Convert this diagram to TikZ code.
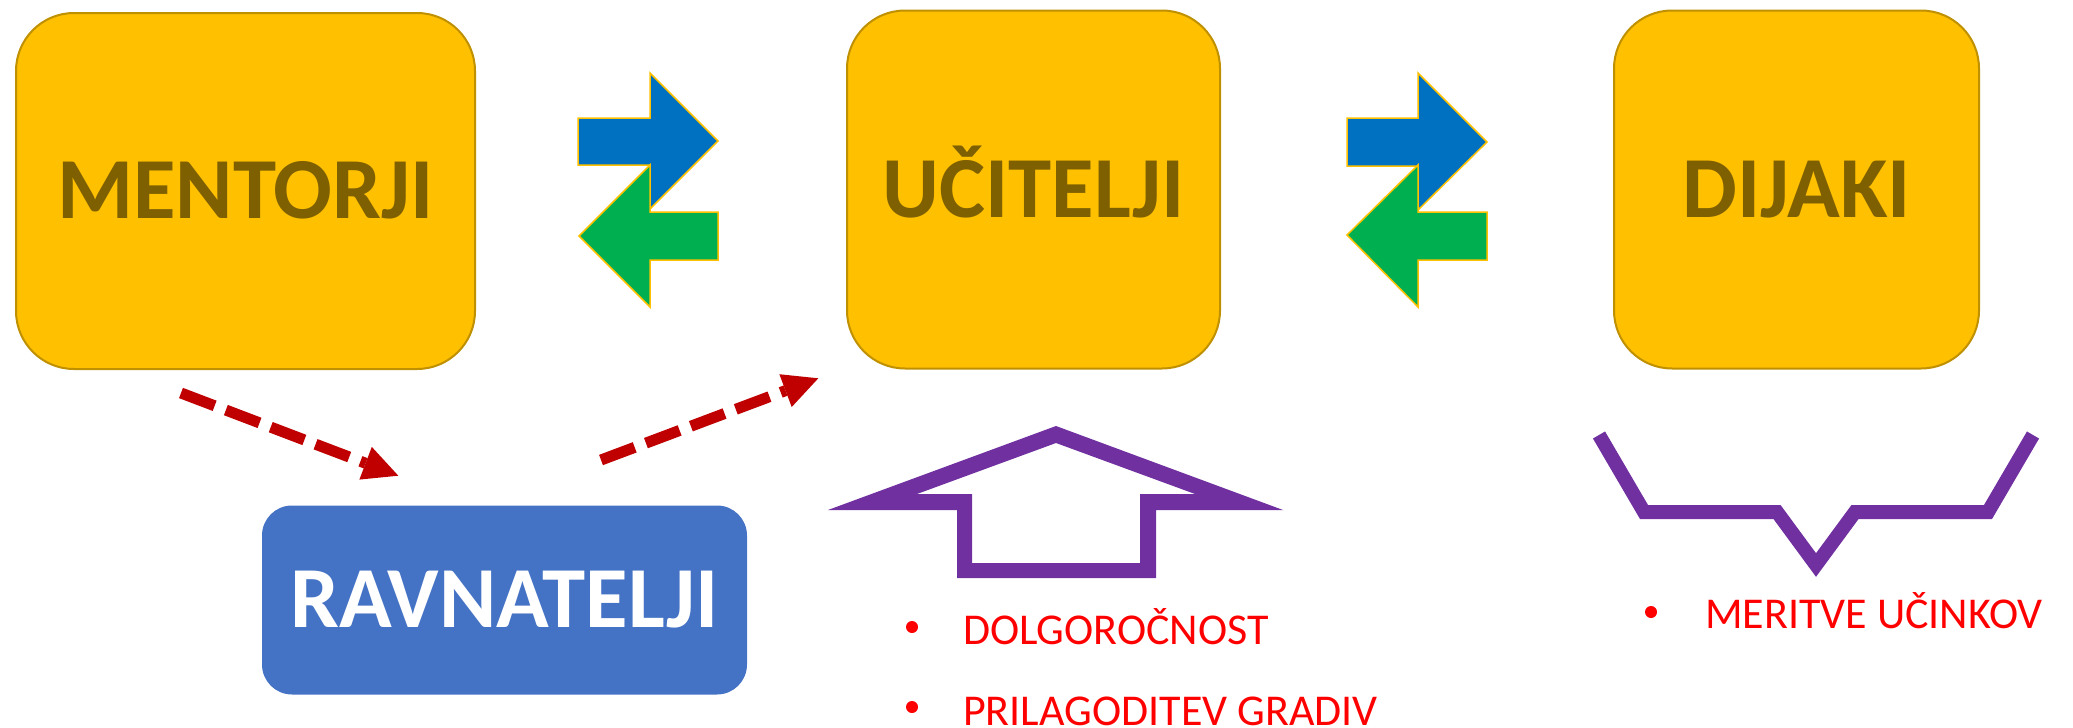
\documentclass[tikz,border=0pt]{standalone}
\usepackage{fontspec}
\setmainfont{Carlito}
\usetikzlibrary{arrows.meta}
\definecolor{boxyellow}{HTML}{FFC000}
\definecolor{boxedge}{HTML}{BF9000}
\definecolor{boxtext}{HTML}{7F6000}
\definecolor{boxblue}{HTML}{4472C4}
\definecolor{arrblue}{HTML}{0070C0}
\definecolor{arrgreen}{HTML}{00B050}
\definecolor{darkred}{HTML}{C00000}
\definecolor{purplec}{HTML}{7030A0}
\definecolor{brightred}{HTML}{FF0000}
\tikzset{
  ybox/.style={draw=boxedge, line width=2pt, fill=boxyellow, rounded corners=58pt,
    text=boxtext, font=\bfseries\fontsize{87}{90}\selectfont,
    text height=55pt, text depth=0pt, inner sep=0pt},
  bbox/.style={fill=boxblue, rounded corners=30pt,
    text=white, font=\bfseries\fontsize{87}{90}\selectfont,
    text height=55pt, text depth=0pt, inner sep=0pt},
  xarrow/.style={draw=boxyellow, line width=1.5pt, line join=miter},
  dasharrow/.style={draw=darkred, line width=11pt, dash pattern=on 36pt off 12pt,
    -{Triangle[length=35pt,width=35pt,line width=0pt]}},
  bulletdot/.style={circle, fill=brightred, minimum size=12pt, inner sep=0pt},
  itemtext/.style={text=brightred, font=\fontsize{44}{48}\selectfont, inner sep=0pt, anchor=base west},
}
\begin{document}
\begin{tikzpicture}[x=1pt,y=-1pt]
\useasboundingbox (0,0) rectangle (2073,728);

% boxes
\node[ybox, minimum width=459pt, minimum height=356pt] (mentorji) at (245.5,191) {MENTORJI};
\node[ybox, minimum width=373pt, minimum height=358pt] (ucitelji) at (1033.5,189.5) {UČITELJI};
\node[ybox, minimum width=365pt, minimum height=358pt] (dijaki) at (1796.5,189.5) {DIJAKI};
\node[bbox, minimum width=485pt, minimum height=189pt] (ravnatelji) at (504.5,600) {RAVNATELJI};

% exchange arrows 1
\filldraw[xarrow, fill=arrblue] (578,118) -- (650,118) -- (650,73) -- (718,141) -- (650,209) -- (650,165) -- (578,165) -- cycle;
\filldraw[xarrow, fill=arrgreen] (718,212) -- (650,212) -- (650,165) -- (579,236) -- (650,307) -- (650,260) -- (718,260) -- cycle;

% exchange arrows 2
\filldraw[xarrow, fill=arrblue] (1347,118) -- (1418,118) -- (1418,73) -- (1487,142) -- (1418,210) -- (1418,166) -- (1347,166) -- cycle;
\filldraw[xarrow, fill=arrgreen] (1487,212) -- (1418,212) -- (1418,165) -- (1347,235) -- (1418,307) -- (1418,260) -- (1487,260) -- cycle;

% dashed arrows
\coordinate (d1s) at (181,393);
\coordinate (d1e) at (398.3,475.7);
\coordinate (d2s) at (601,460);
\coordinate (d2e) at (818.3,378.3);
\draw[dasharrow] (d1s) -- (d1e);
\draw[dasharrow] (d2s) -- (d2e);

% wide up arrow outline
\fill[purplec, even odd rule]
  (1056,426) -- (1283,510) -- (1156,510) -- (1156,578) -- (957,578) -- (957,510) -- (828,510) -- cycle
  (1056,443) -- (1195,494) -- (1140,494) -- (1140,563) -- (972,563) -- (972,494) -- (917,494) -- cycle;

% bracket
\draw[purplec, line width=14pt, line join=miter]
  (1599,435) -- (1644,512) -- (1777,512) -- (1816,565) -- (1855,512) -- (1988,512) -- (2033,435);

% bullet items
\node[bulletdot] (b1) at (912,627) {};
\node[itemtext] (t1) at (963,644) {DOLGOROČNOST};
\node[bulletdot] (b2) at (912,707) {};
\node[itemtext] (t2) at (963,725) {PRILAGODITEV GRADIV};
\node[bulletdot] (b3) at (1651,612) {};
\node[itemtext] (t3) at (1705,628) {MERITVE UČINKOV};
\end{tikzpicture}
\end{document}
